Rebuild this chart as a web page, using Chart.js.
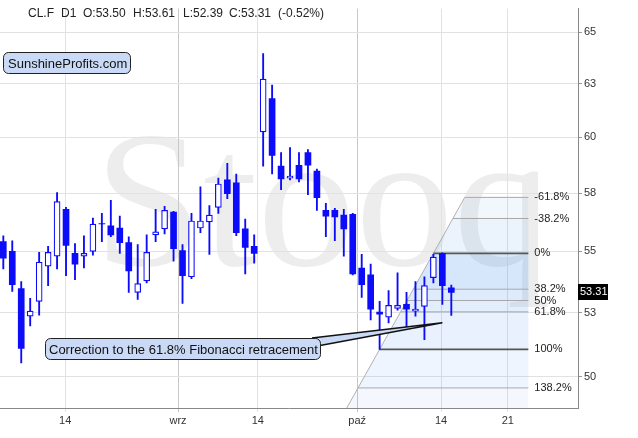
<!DOCTYPE html>
<html>
<head>
<meta charset="utf-8">
<script src="https://cdn.jsdelivr.net/npm/chart.js@4.4.0/dist/chart.umd.min.js"></script>
<style>
  html, body { margin: 0; padding: 0; background: #fff; }
</style>
</head>
<body>
<canvas id="chart" width="638" height="438"></canvas>
<script>
// CL.F daily candles, mid Aug .. 15 Oct (index = trading day)
const opens = [55.41, 55.00, 53.47, 52.36, 52.95, 54.39, 54.80, 56.79, 54.92, 54.80,
  55.00, 56.18, 56.08, 55.99, 55.37, 53.31, 53.78, 55.70, 55.95, 56.67,
  55.04, 53.95, 55.99, 56.25, 56.88, 58.08, 57.95, 55.95, 55.21, 60.24,
  61.79, 58.69, 58.16, 58.73, 59.30, 58.47, 56.75, 56.75, 56.54, 56.58,
  54.31, 54.03, 52.52, 52.32, 52.67, 52.83, 52.56, 52.75, 53.91, 54.92,
  53.50]
const highs = [55.66, 55.45, 53.75, 53.07, 54.96, 55.21, 57.52, 56.88, 55.33, 55.66,
  56.41, 56.62, 57.18, 56.50, 55.62, 55.29, 55.70, 56.79, 56.92, 56.71,
  55.29, 56.62, 57.77, 56.96, 58.16, 58.82, 58.34, 56.37, 55.70, 63.94,
  62.43, 59.30, 59.53, 59.30, 59.44, 58.56, 57.05, 56.84, 56.79, 56.62,
  54.88, 54.47, 52.95, 53.39, 54.11, 53.31, 53.75, 53.95, 54.88, 54.94,
  53.61]
const lows = [54.27, 53.35, 50.52, 51.97, 52.40, 53.59, 54.27, 53.99, 53.83, 54.31,
  54.84, 55.41, 55.62, 54.92, 53.31, 53.03, 53.70, 55.41, 55.74, 54.59,
  52.87, 53.87, 55.79, 54.88, 56.62, 57.26, 55.66, 54.07, 54.51, 58.69,
  58.34, 57.65, 58.08, 57.99, 57.43, 56.75, 55.62, 55.45, 54.80, 54.03,
  53.11, 52.21, 51.05, 52.09, 52.60, 51.86, 52.36, 51.43, 53.70, 52.83,
  52.39]
const closes = [54.72, 53.63, 51.09, 52.56, 54.55, 54.96, 57.13, 55.25, 54.47, 54.92,
  56.16, 56.16, 55.70, 55.37, 54.19, 53.67, 54.96, 55.83, 56.75, 55.12,
  53.99, 56.29, 56.29, 56.54, 57.90, 57.47, 55.79, 55.17, 54.92, 62.71,
  59.17, 58.12, 58.25, 58.12, 58.73, 57.30, 56.50, 56.46, 55.95, 54.07,
  53.63, 52.64, 52.44, 52.79, 52.79, 52.64, 52.64, 53.59, 54.76, 53.59,
  53.31]

// axis ticks
const xTickPos = [6.9, 19.5, 28.4, 39.5, 48.85, 56.3]
const xTickLabels = ['14', 'wrz', '14', 'paź', '14', '21']
const yTickValues = [50, 52.5, 55, 57.5, 60, 62.5, 65]
const yTickLabels = ['50', '53', '55', '58', '60', '63', '65']

// fibonacci drawing: anchors (index, price) and levels
const fibAnchorIdx = [42, 48]
const fibAnchorPrice = [51.05, 54.92]
const fibLevels = [-0.618, -0.382, 0, 0.382, 0.5, 0.618, 1, 1.382]
const fibLabels = ['-61.8%', '-38.2%', '0%', '38.2%', '50%', '61.8%', '100%', '138.2%']
const fibRightIdx = 58.6

// callout tip (index, price)
const calloutTip = [49, 52.09]

const FONT = '"Liberation Sans", Arial, sans-serif'
const BLUE = 'rgb(12,12,250)'
const bandAlpha = [0.06, 0.09, 0.18, 0.15, 0.13, 0.10, 0.07, 0.05]

const idx = opens.map((v, i) => i)
const wickData = idx.map(i => ({ x: i, y: [lows[i], highs[i]] }))
const bearData = idx.filter(i => closes[i] < opens[i]).map(i => ({ x: i, y: [closes[i], opens[i]] }))
const bullData = idx.filter(i => closes[i] >= opens[i]).map(i => ({ x: i, y: [opens[i], closes[i]] }))

function roundBox(ctx, x, y, w, h, r) {
  ctx.beginPath()
  ctx.moveTo(x + r, y)
  ctx.arcTo(x + w, y, x + w, y + h, r)
  ctx.arcTo(x + w, y + h, x, y + h, r)
  ctx.arcTo(x, y + h, x, y, r)
  ctx.arcTo(x, y, x + w, y, r)
  ctx.closePath()
}

const decor = {
  id: 'decor',
  beforeDraw(chart) {
    // stooq watermark
    const { ctx } = chart
    ctx.save()
    ctx.font = '196px "Liberation Serif", serif'
    ctx.fillStyle = 'rgba(0,0,0,0.07)'
    ctx.fillText('Stooq', 94, 265)
    ctx.restore()
  },
  beforeDatasetsDraw(chart) {
    const { ctx, chartArea: area } = chart
    const xs = chart.scales.x
    const ys = chart.scales.y
    const x0 = xs.getPixelForValue(fibAnchorIdx[0])
    const y0 = ys.getPixelForValue(fibAnchorPrice[0])
    const x1 = xs.getPixelForValue(fibAnchorIdx[1])
    const y1 = ys.getPixelForValue(fibAnchorPrice[1])
    const diagX = y => x0 + (y - y0) * (x1 - x0) / (y1 - y0)
    const range = fibAnchorPrice[1] - fibAnchorPrice[0]
    const levelY = fibLevels.map(l => ys.getPixelForValue(fibAnchorPrice[1] - l * range))
    const xr = xs.getPixelForValue(fibRightIdx)
    const edges = levelY.concat([area.bottom])

    ctx.save()
    for (let k = 0; k < edges.length - 1; k += 1) {
      const ya = edges[k]
      const yb = edges[k + 1]
      ctx.beginPath()
      ctx.moveTo(diagX(ya), ya)
      ctx.lineTo(xr, ya)
      ctx.lineTo(xr, yb)
      ctx.lineTo(diagX(yb), yb)
      ctx.closePath()
      ctx.fillStyle = `rgba(30,120,235,${bandAlpha[k]})`
      ctx.fill()
    }

    // diagonal
    ctx.beginPath()
    ctx.moveTo(diagX(area.bottom), area.bottom)
    ctx.lineTo(diagX(levelY[0]), levelY[0])
    ctx.strokeStyle = '#b0b0b0'
    ctx.lineWidth = 1
    ctx.stroke()

    // level lines + labels
    levelY.forEach((y, k) => {
      const strong = fibLevels[k] === 0 || fibLevels[k] === 1
      ctx.beginPath()
      ctx.moveTo(diagX(y), y)
      ctx.lineTo(xr, y)
      ctx.strokeStyle = strong ? '#555' : '#a8a8a8'
      ctx.lineWidth = strong ? 1.6 : 1
      ctx.stroke()
      ctx.font = '11px ' + FONT
      ctx.fillStyle = '#222'
      ctx.textBaseline = 'middle'
      ctx.fillText(fibLabels[k], xr + 6, y)
    })
    ctx.restore()
  },
  afterDatasetsDraw(chart) {
    const { ctx } = chart
    const xs = chart.scales.x
    const ys = chart.scales.y
    ctx.save()

    // callout tail + box
    const tx = xs.getPixelForValue(calloutTip[0])
    const ty = ys.getPixelForValue(calloutTip[1])
    ctx.beginPath()
    ctx.moveTo(312, 338)
    ctx.lineTo(tx, ty)
    ctx.lineTo(312, 347)
    ctx.fillStyle = '#c9d9f6'
    ctx.fill()
    ctx.strokeStyle = '#111'
    ctx.lineWidth = 1.5
    ctx.stroke()

    roundBox(ctx, 45.5, 338.5, 275, 21, 5)
    ctx.fillStyle = '#c9d9f6'
    ctx.fill()
    ctx.strokeStyle = '#222'
    ctx.lineWidth = 1
    ctx.stroke()
    ctx.font = '13px ' + FONT
    ctx.fillStyle = '#111'
    ctx.textBaseline = 'alphabetic'
    ctx.fillText('Correction to the 61.8% Fibonacci retracement', 49, 354)

    // logo box
    roundBox(ctx, 3.5, 52.5, 127, 21, 5)
    ctx.fillStyle = '#c9d9f6'
    ctx.fill()
    ctx.stroke()
    ctx.fillStyle = '#111'
    ctx.fillText('SunshineProfits.com', 8, 68)

    // header line
    const n = closes.length - 1
    const chg = (closes[n] - closes[n - 1]) / closes[n - 1] * 100
    const parts = ['CL.F', 'D1', 'O:' + opens[n].toFixed(2), 'H:' + highs[n].toFixed(2),
      'L:' + lows[n].toFixed(2), 'C:' + closes[n].toFixed(2), '(' + chg.toFixed(2) + '%)']
    const partX = [28, 61, 83, 133, 183, 229, 278]
    ctx.font = '12px ' + FONT
    ctx.fillStyle = '#222'
    parts.forEach((p, k) => ctx.fillText(p, partX[k], 17))
    ctx.restore()
  },
  afterDraw(chart) {
    // last price tag on the axis
    const { ctx, chartArea: area } = chart
    const y = chart.scales.y.getPixelForValue(closes[closes.length - 1])
    ctx.save()
    ctx.fillStyle = '#000'
    ctx.fillRect(area.right, Math.round(y) - 8, 30, 16)
    ctx.fillStyle = '#fff'
    ctx.font = '11px ' + FONT
    ctx.textBaseline = 'middle'
    ctx.fillText(closes[closes.length - 1].toFixed(2), area.right + 2, Math.round(y))
    ctx.restore()
  }
}

Chart.defaults.font.family = FONT

new Chart(document.getElementById('chart'), {
  type: 'bar',
  data: {
    datasets: [
      { data: wickData, backgroundColor: BLUE, barThickness: 1.2, grouped: false, order: 2 },
      { data: bearData, backgroundColor: BLUE, barThickness: 6, grouped: false, order: 1 },
      {
        data: bullData,
        backgroundColor: '#fff',
        borderColor: BLUE,
        borderWidth: 1.2,
        borderSkipped: false,
        barThickness: 6,
        grouped: false,
        order: 0
      }
    ]
  },
  options: {
    responsive: false,
    animation: false,
    events: [],
    layout: { padding: 0 },
    plugins: { legend: { display: false }, tooltip: { enabled: false } },
    scales: {
      x: {
        type: 'linear',
        min: -0.37,
        max: 64.14,
        bounds: 'data',
        offset: false,
        afterBuildTicks: (s) => { s.ticks = xTickPos.map(v => ({ value: v })) },
        afterFit: (s) => { s.height = 30 },
        ticks: {
          autoSkip: false,
          maxRotation: 0,
          padding: 2,
          color: '#333',
          font: { size: 11 },
          callback: (v, i) => xTickLabels[i]
        },
        grid: {
          color: c => (c.tick && (c.tick.value === 19.5 || c.tick.value === 39.5) ? '#c8c8c8' : '#e2e2e2'),
          tickLength: 4,
          offset: false
        },
        border: { color: '#888' }
      },
      y: {
        type: 'logarithmic',
        position: 'right',
        min: 48.82,
        max: 66.17,
        bounds: 'data',
        afterBuildTicks: (s) => { s.ticks = yTickValues.map(v => ({ value: v })) },
        afterFit: (s) => { s.width = 60 },
        ticks: {
          padding: 2,
          color: '#333',
          font: { size: 11 },
          callback: (v, i) => yTickLabels[i]
        },
        grid: { color: '#e2e2e2', tickColor: '#999', tickLength: 4 },
        border: { color: '#888' }
      }
    }
  },
  plugins: [decor]
})
</script>
</body>
</html>
